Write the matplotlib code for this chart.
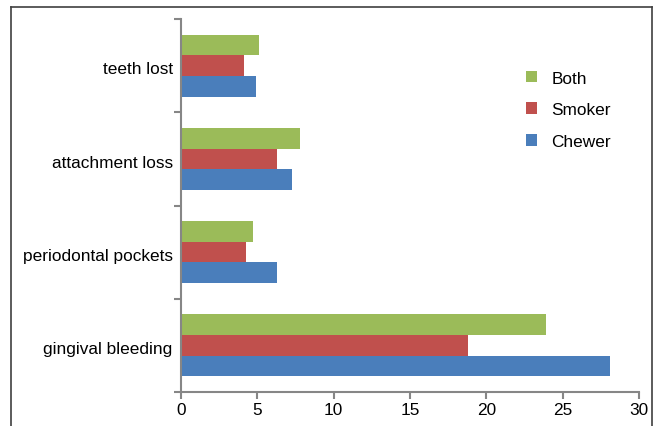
import matplotlib
matplotlib.use("Agg")
import matplotlib.pyplot as plt
from matplotlib.lines import Line2D
import numpy as np

plt.rcParams['font.family'] = ['Liberation Sans', 'DejaVu Sans']

categories = ["gingival bleeding", "periodontal pockets", "attachment loss", "teeth lost"]
chewer = [28.1, 6.3, 7.3, 4.9]
smoker = [18.8, 4.25, 6.3, 4.1]
both = [23.9, 4.7, 7.8, 5.1]
x_ticks = [0, 5, 10, 15, 20, 25, 30]

colors = {"Chewer": "#4A7EBB", "Smoker": "#C0504D", "Both": "#9BBB59"}
axis_gray = "#868686"
fs = 12.4

fig = plt.figure(figsize=(6.61, 4.27), dpi=100)
ax = fig.add_axes([181 / 661, 34 / 427, 458 / 661, 373 / 427])

y = np.arange(len(categories))
h = 0.222
ax.barh(y - h, chewer, height=h, color=colors["Chewer"], label="Chewer")
ax.barh(y, smoker, height=h, color=colors["Smoker"], label="Smoker")
ax.barh(y + h, both, height=h, color=colors["Both"], label="Both")

ax.set_xlim(0, 30)
ax.set_ylim(-0.5, len(categories) - 0.5)
ax.set_xticks(x_ticks)
ax.set_xticklabels([str(v) for v in x_ticks], fontsize=fs)

# category boundaries carry the tick marks, labels sit between them
ax.set_yticks(np.arange(-0.5, len(categories), 1.0))
ax.set_yticklabels([])
ax.set_yticks(y - 0.02, minor=True)
ax.set_yticklabels(categories, minor=True, fontsize=fs)
ax.tick_params(axis='y', which='minor', length=0, pad=6)
ax.tick_params(axis='y', which='major', length=5, width=1.5, color=axis_gray)
ax.tick_params(axis='x', length=5, width=1.5, color=axis_gray, pad=2)

for side in ("top", "right"):
    ax.spines[side].set_visible(False)
for side in ("left", "bottom"):
    ax.spines[side].set_color(axis_gray)
    ax.spines[side].set_linewidth(1.5)

handles, labels = ax.get_legend_handles_labels()
leg = ax.legend(handles[::-1], labels[::-1], loc='upper left',
                bbox_to_anchor=(510 / 661, 1 - 56 / 427), bbox_transform=fig.transFigure,
                frameon=False, fontsize=fs, handlelength=0.65, handleheight=0.65,
                labelspacing=0.97, handletextpad=0.85)

# outer frame around the chart area
frame_c = "#404040"
fig.add_artist(Line2D([11 / 661, 652 / 661], [1 - 8 / 427, 1 - 8 / 427], color=frame_c, lw=1.2,
                      transform=fig.transFigure))
fig.add_artist(Line2D([11 / 661, 11 / 661], [0, 1 - 8 / 427], color=frame_c, lw=1.2,
                      transform=fig.transFigure))
fig.add_artist(Line2D([652 / 661, 652 / 661], [0, 1 - 8 / 427], color=frame_c, lw=1.2,
                      transform=fig.transFigure))

fig.savefig("out.png", dpi=100)
